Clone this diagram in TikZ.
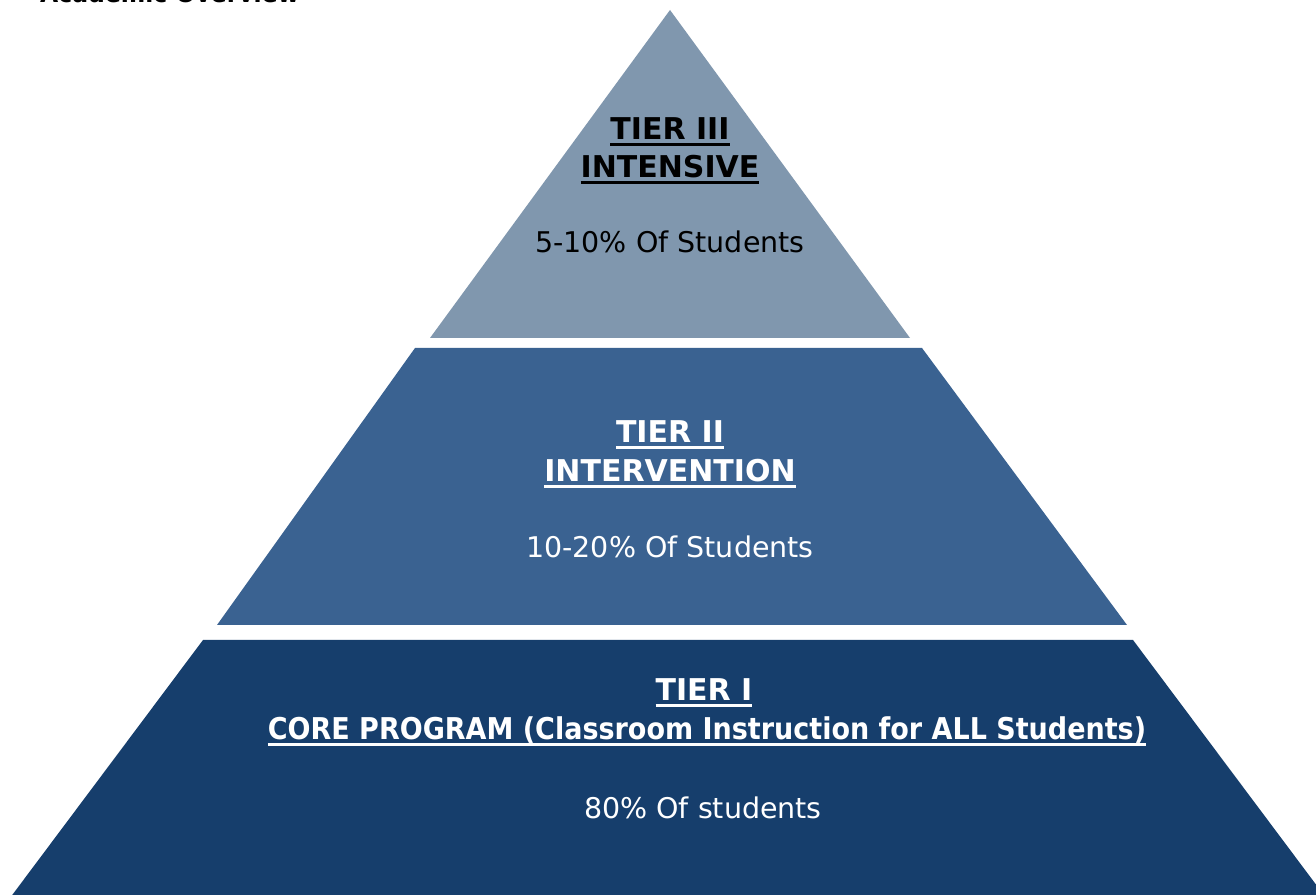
\documentclass[tikz,border=0pt]{standalone}
\usepackage{fontspec}
\setmainfont{DejaVu Sans}
\definecolor{tierthree}{RGB}{128,151,174}
\definecolor{tiertwo}{RGB}{58,98,145}
\definecolor{tierone}{RGB}{22,62,108}
\newcommand{\tul}[1]{\setbox0=\hbox{#1}\leavevmode\rlap{\rule[-6pt]{\wd0}{2.5pt}}\box0}
\tikzset{
  tier/.style={draw=none},
  head/.style={anchor=base, inner sep=0pt, font=\fontsize{30}{36}\bfseries\selectfont},
  share/.style={anchor=base, inner sep=0pt, font=\fontsize{28.5}{34}\selectfont},
  title/.style={anchor=base west, inner sep=0pt, font=\fontsize{23.5}{28}\bfseries\selectfont}
}
\begin{document}
\begin{tikzpicture}[x=1pt,y=1pt]
\useasboundingbox (0,0) rectangle (1316,894);
\clip (0,0) rectangle (1316,894);
\fill[white] (0,0) rectangle (1316,894);
% tiers
\fill[tierthree] (670,884) -- (910,556) -- (430,556) -- cycle;
\fill[tiertwo] (415,546) -- (922,546) -- (1127,269) -- (217,269) -- cycle;
\fill[tierone] (203,254) -- (1133,254) -- (1338,-20) -- (-2,-20) -- cycle;
% title (cut off at the top)
\node[title] (ttl) at (40,891) {Academic Overview};
% tier III
\node[head, text=black] (t3a) at (670,754) {\tul{TIER III}};
\node[head, text=black] (t3b) at (670,716) {\tul{INTENSIVE}};
\node[share, text=black] (t3c) at (670,641) {5-10\% Of Students};
% tier II
\node[head, text=white] (t2a) at (670,451) {\tul{TIER II}};
\node[head, text=white] (t2b) at (670,412) {\tul{INTERVENTION}};
\node[share, text=white] (t2c) at (670,336) {10-20\% Of Students};
% tier I
\node[head, text=white] (t1a) at (704,193) {\tul{TIER I}};
\node[head, text=white, xscale=0.9] (t1b) at (707,154) {\tul{CORE PROGRAM (Classroom Instruction for ALL Students)}};
\node[share, text=white] (t1c) at (703,76) {80\% Of students};
\end{tikzpicture}
\end{document}
